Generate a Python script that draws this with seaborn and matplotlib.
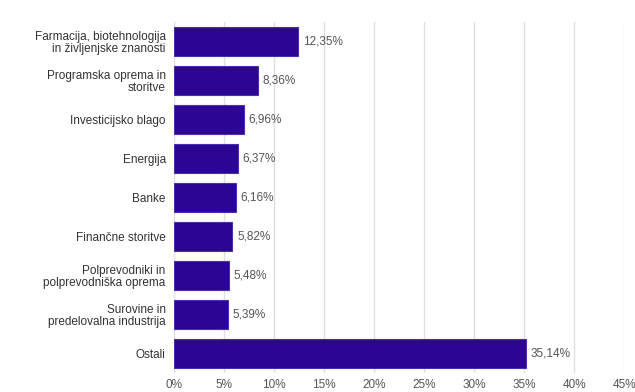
import matplotlib
matplotlib.use("Agg")
import matplotlib.pyplot as plt
import seaborn as sns
import pandas as pd

categories = [
    "Farmacija, biotehnologija\nin življenjske znanosti",
    "Programska oprema in\nstoritve",
    "Investicijsko blago",
    "Energija",
    "Banke",
    "Finančne storitve",
    "Polprevodniki in\npolprevodniška oprema",
    "Surovine in\npredelovalna industrija",
    "Ostali",
]
shares = [12.35, 8.36, 6.96, 6.37, 6.16, 5.82, 5.48, 5.39, 35.14]
xticks = [0, 5, 10, 15, 20, 25, 30, 35, 40, 45]

df = pd.DataFrame({"Sektor": categories, "Delez": shares})

sns.set_style("white")
plt.rcParams["font.family"] = ["Liberation Sans", "DejaVu Sans"]

fig = plt.figure(figsize=(6.35, 3.92), dpi=100)
ax = fig.add_axes([0.274, 0.048, 0.709, 0.895])

sns.barplot(data=df, x="Delez", y="Sektor", color="#2c0592", saturation=1,
            width=0.74, edgecolor="#4a30b0", linewidth=0.8, ax=ax)

for i, v in enumerate(shares):
    ax.text(v + 0.5, i, f"{v:.2f}%".replace(".", ","), va="center", ha="left",
            fontsize=8.5, color="#555555")

ax.set_xlim(0, 45)
ax.set_ylim(8.5, -0.5)
ax.set_xticks(xticks)
ax.set_xticklabels([f"{t}%" for t in xticks])
ax.xaxis.grid(True, color="#e0e0e0", linewidth=1)
ax.set_axisbelow(True)
ax.set_xlabel("")
ax.set_ylabel("")
for s in ["top", "right", "bottom", "left"]:
    ax.spines[s].set_visible(False)
ax.tick_params(axis="x", length=0, labelsize=8.5, labelcolor="#555555", pad=4)
ax.tick_params(axis="y", length=0, labelsize=8.5, labelcolor="#333333", pad=6)
for lab in ax.get_yticklabels():
    lab.set_linespacing(0.95)

fig.savefig("out.png", dpi=100)
